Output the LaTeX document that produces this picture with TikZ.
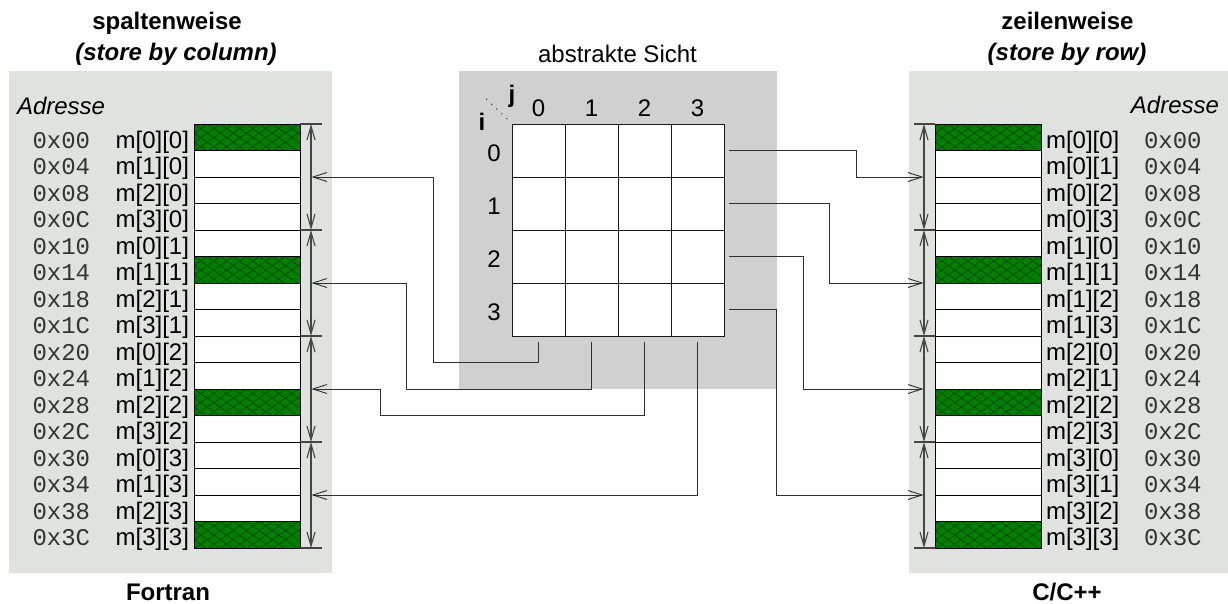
\documentclass[tikz,border=0pt]{standalone}
\usepackage{fontspec}
\setmainfont{Liberation Sans}
\setmonofont{Liberation Mono}
\usetikzlibrary{arrows.meta}
\definecolor{panelbg}{HTML}{DFE2DF}
\definecolor{midbg}{HTML}{D0D0D0}
\definecolor{hgreen}{HTML}{008000}
\definecolor{hline}{HTML}{003800}
\definecolor{conncol}{HTML}{303030}
\definecolor{dimcol}{HTML}{454545}
\tikzset{
  txt/.style={font=\fontsize{24}{28}\selectfont, inner sep=0pt, outer sep=0pt},
  addr/.style={font=\fontsize{24}{28}\selectfont\ttfamily, text=black!80, inner sep=0pt, outer sep=0pt},
  ttl/.style={font=\fontsize{24}{28}\selectfont\bfseries, inner sep=0pt, outer sep=0pt},
  ttlit/.style={font=\fontsize{24}{28}\selectfont\bfseries\itshape, inner sep=0pt, outer sep=0pt},
  memcell/.style={draw=black, line width=0.9pt, fill=white, minimum width=106pt, minimum height=26.5pt, inner sep=0pt, outer sep=0pt},
  mcell/.style={draw=black!90, line width=0.9pt, fill=white, minimum width=53pt, minimum height=53pt, inner sep=0pt, outer sep=0pt},
  conn/.style={draw=conncol, line width=0.9pt},
  connarrow/.style={conn, -{Straight Barb[length=14pt,width=9pt]}},
  dim/.style={draw=dimcol, line width=1.1pt},
  dimarrow/.style={dim, {Straight Barb[length=14pt,width=8pt]}-{Straight Barb[length=14pt,width=8pt]}},
  hatchln/.style={draw=hline, line width=0.55pt}
}
\begin{document}
\begin{tikzpicture}[x=1pt,y=-1pt]
\useasboundingbox (0,0) rectangle (1228,603);
% backgrounds
\fill[panelbg] (9,71) rectangle (332,573);
\fill[panelbg] (909,71) rectangle (1228,573);
\fill[midbg] (459,71) rectangle (776.5,388.5);

% titles
\node[ttl, anchor=base] (tl1) at (167,29) {spaltenweise};
\node[ttlit, anchor=base] (tl2) at (176,60.5) {(store by column)};
\node[ttl, anchor=base] (tr1) at (1067.5,29) {zeilenweise};
\node[ttlit, anchor=base] (tr2) at (1067,60.5) {(store by row)};
\node[ttl, anchor=base] (bl) at (168,600) {Fortran};
\node[ttl, anchor=base] (br) at (1067,600) {C/C++};
\node[txt, anchor=base] (abs) at (617.5,62) {abstrakte Sicht};
\node[txt, anchor=base west, font=\fontsize{24}{28}\selectfont\itshape] (adrL) at (17,114) {Adresse};
\node[txt, anchor=base east, font=\fontsize{24}{28}\selectfont\itshape] (adrR) at (1219,113.5) {Adresse};

% memory cells and labels
\foreach \a [count=\k from 0] in {00,04,08,0C,10,14,18,1C,20,24,28,2C,30,34,38,3C} {
  \pgfmathtruncatemacro\ii{mod(\k,4)}
  \pgfmathtruncatemacro\jj{div(\k,4)}
  \node[memcell] (L-\k) at (247.3,{124+26.5*\k+13.25}) {};
  \node[memcell] (R-\k) at (988.3,{124+26.5*\k+13.25}) {};
  \node[txt, anchor=base east] (Lm-\k) at (189,{124+26.5*\k+24}) {m[\ii][\jj]};
  \node[addr, anchor=base west] (La-\k) at (32.5,{124+26.5*\k+24}) {0x\a};
  \node[txt, anchor=base west] (Rm-\k) at (1046,{124+26.5*\k+24}) {m[\jj][\ii]};
  \node[addr, anchor=base west] (Ra-\k) at (1144,{124+26.5*\k+24}) {0x\a};
}
% hatched cells
\foreach \side in {L,R} {
  \foreach \k in {0,5,10,15} {
    \begin{scope}[shift={(\side-\k.north west)}]
      \clip (0,0) rectangle (106,26.5);
      \fill[hgreen] (0,0) rectangle (106,26.5);
      \foreach \t in {-3,...,9} {
        \draw[hatchln] ({\t*13},0) -- ++(38,26.5);
        \draw[hatchln] ({\t*13},0) -- ++(-38,26.5);
      }
    \end{scope}
    \draw[black, line width=0.9pt] (\side-\k.north west) rectangle (\side-\k.south east);
  }
}

% dimension lines
\foreach \b in {0,1,2,3} {
  \draw[dimarrow] (311,{124+106*\b}) -- (311,{230+106*\b});
  \draw[dimarrow] (924,{124+106*\b}) -- (924,{230+106*\b});
}
\foreach \b in {0,...,4} {
  \draw[dim] (300.3,{124+106*\b}) -- (322,{124+106*\b});
  \draw[dim] (914,{124+106*\b}) -- (935,{124+106*\b});
}
\foreach \b in {0,1,2,3} {
  \coordinate (LA\b) at (311.5,{177+106*\b});
  \coordinate (RA\b) at (923.5,{177+106*\b});
}

% matrix
\foreach \i in {0,1,2,3} {
  \foreach \j in {0,1,2,3} {
    \node[mcell] (M-\i-\j) at ({538.5+53*\j},{150.5+53*\i}) {};
  }
  \node[txt, anchor=base] (cj-\i) at ({538.5+53*\i},116) {\i};
  \node[txt, anchor=base] (ri-\i) at (494,{161.7+53*\i}) {\i};
}
\node[txt, anchor=base, font=\fontsize{24}{28}\selectfont\bfseries] (jlab) at (512,102) {j};
\node[txt, anchor=base, font=\fontsize{24}{28}\selectfont\bfseries] (ilab) at (482,130) {i};
\draw[black, line width=1.3pt, line cap=round, dash pattern=on 0pt off 7pt] (486.7,99.3) -- (508.3,120);

% connectors: columns -> Fortran
\draw[connarrow] ([yshift=-6pt]M-3-0.south) |- (433,362) |- (LA0);
\draw[connarrow] ([yshift=-6pt]M-3-1.south) |- (406,389) |- (LA1);
\draw[connarrow] ([yshift=-6pt]M-3-2.south) |- (380,415) |- (LA2);
\draw[connarrow] ([yshift=-6pt]M-3-3.south) |- (LA3);
% connectors: rows -> C/C++
\draw[connarrow] ([xshift=5pt]M-0-3.east) -| (856,177) -- (RA0);
\draw[connarrow] ([xshift=5pt]M-1-3.east) -| (829.5,283) -- (RA1);
\draw[connarrow] ([xshift=5pt]M-2-3.east) -| (803,389) -- (RA2);
\draw[connarrow] ([xshift=5pt]M-3-3.east) -| (776.5,495) -- (RA3);
\end{tikzpicture}
\end{document}
